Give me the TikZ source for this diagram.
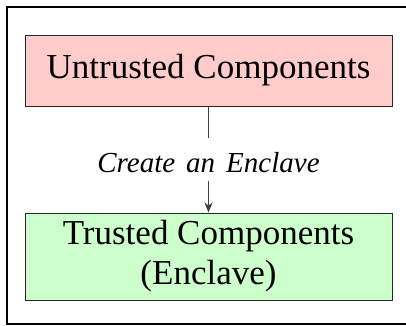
\documentclass[tikz,border=0pt]{standalone}
\usepackage{fontspec}
\setmainfont{Liberation Serif}
\usetikzlibrary{arrows.meta}
\definecolor{untr}{RGB}{255,204,204}
\definecolor{trc}{RGB}{204,255,204}
\tikzset{
  compbox/.style={draw=black!85, line width=1pt, inner sep=0pt,
    minimum width=367pt, font=\fontsize{35}{40}\selectfont, align=center},
  flow/.style={draw=black!75, line width=1.3pt,
    -{Stealth[length=10pt,width=8pt,inset=3pt]}},
  flowlabel/.style={fill=white, inner xsep=2pt, inner ysep=9pt,
    text height=25pt, text depth=0pt,
    font=\fontsize{29}{34}\selectfont\itshape}
}
\begin{document}
\begin{tikzpicture}[x=1pt,y=-1pt]
\useasboundingbox (0,0) rectangle (406,325);
\draw[line width=2pt] (7,7) rectangle (414,324);
\node[compbox, fill=untr, minimum height=71pt] (u) at (208.5,70.5) {Untrusted Components};
\node[compbox, fill=trc, minimum height=87pt] (t) at (208.5,256.5) {Trusted Components\\(Enclave)};
\draw[flow] (u.south) -- node[flowlabel] {\spaceskip=11pt Create an Enclave} (t.north);
\end{tikzpicture}
\end{document}
